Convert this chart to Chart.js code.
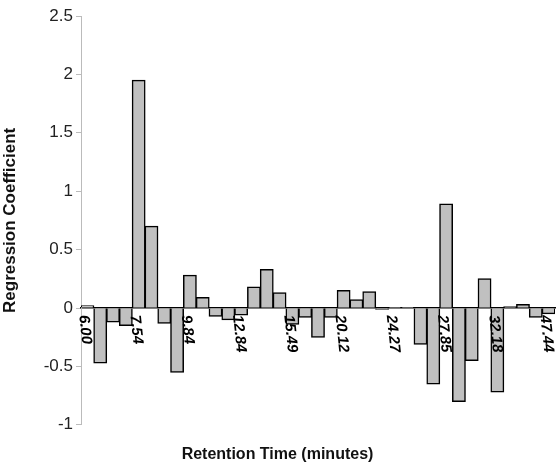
<!DOCTYPE html>
<html>
<head>
<meta charset="utf-8">
<script src="https://cdn.jsdelivr.net/npm/chart.js@4"></script>
<style>
  html, body { margin: 0; padding: 0; background: #fff; }
  #wrap { width: 559px; height: 466px; }
</style>
</head>
<body>
<div id="wrap"><canvas id="chart"></canvas></div>
<script>
// --- Data ---
const retentionTimes = [
  "6.00", "", "", "", "7.54", "", "", "", "9.84", "", "", "", "12.84", "", "", "", "15.49",
  "", "", "", "20.12", "", "", "", "24.27", "", "", "", "27.85", "", "", "", "32.18",
  "", "", "", "47.44"
];
const coefficients = [
  0.02, -0.47, -0.12, -0.15, 1.95, 0.70, -0.13, -0.55, 0.28, 0.09, -0.07, -0.10, -0.06,
  0.18, 0.33, 0.13, -0.14, -0.08, -0.25, -0.08, 0.15, 0.07, 0.14, -0.01, 0.005, 0.005,
  -0.31, -0.65, 0.89, -0.80, -0.45, 0.25, -0.72, 0.01, 0.03, -0.08, -0.05
];
const yTicks = [-1, -0.5, 0, 0.5, 1, 1.5, 2, 2.5];

// --- Rotated category labels hanging down from the zero line ---
const hangingLabels = {
  id: "hangingLabels",
  afterDatasetsDraw(chart) {
    const ctx = chart.ctx;
    const x = chart.scales.x;
    const y0 = chart.scales.y.getPixelForValue(0);
    ctx.save();
    ctx.font = "italic bold 15px Arial, 'Liberation Sans', sans-serif";
    ctx.fillStyle = "#000";
    ctx.textAlign = "left";
    ctx.textBaseline = "middle";
    retentionTimes.forEach((lab, i) => {
      if (!lab) return;
      const px = x.getPixelForValue(i) - 4;
      ctx.save();
      ctx.translate(px, y0 + 7);
      ctx.rotate(84 * Math.PI / 180);
      ctx.fillText(lab, 0, 0);
      ctx.restore();
    });
    ctx.restore();
  }
};

// --- Chart ---
new Chart(document.getElementById("chart"), {
  type: "bar",
  data: {
    labels: retentionTimes,
    datasets: [{
      data: coefficients,
      backgroundColor: "#c0c0c0",
      borderColor: "#000",
      borderWidth: 1.5,
      inflateAmount: 0.5,
      categoryPercentage: 1,
      barPercentage: 1
    }]
  },
  options: {
    responsive: true,
    maintainAspectRatio: false,
    animation: false,
    layout: { padding: { top: 16, right: 4, left: 0, bottom: 0 } },
    scales: {
      x: {
        position: { y: 0 },
        grid: { display: false, drawOnChartArea: false },
        border: { color: "#000", width: 1.5 },
        ticks: { display: false }
      },
      y: {
        min: -1,
        max: 2.5,
        afterBuildTicks: s => { s.ticks = yTicks.map(v => ({ value: v })); },
        afterFit: s => { s.width = 81; },
        grid: { drawOnChartArea: false, color: "#bbb", tickLength: 5 },
        border: { color: "#bbb" },
        ticks: {
          color: "#222", font: { family: "Arial, 'Liberation Sans'", size: 17 }, padding: 3,
          callback: v => String(v)
        },
        title: {
          display: true, text: "Regression Coefficient", color: "#111",
          font: { family: "Arial, 'Liberation Sans'", size: 17, weight: "bold" }, padding: 0
        }
      }
    },
    plugins: {
      legend: { display: false },
      tooltip: { enabled: false },
      title: {
        display: true, position: "bottom", text: "Retention Time (minutes)", color: "#111",
        font: { family: "Arial, 'Liberation Sans'", size: 16, weight: "bold" },
        padding: { top: 20, bottom: 2 }
      }
    }
  },
  plugins: [hangingLabels]
});
</script>
</body>
</html>
